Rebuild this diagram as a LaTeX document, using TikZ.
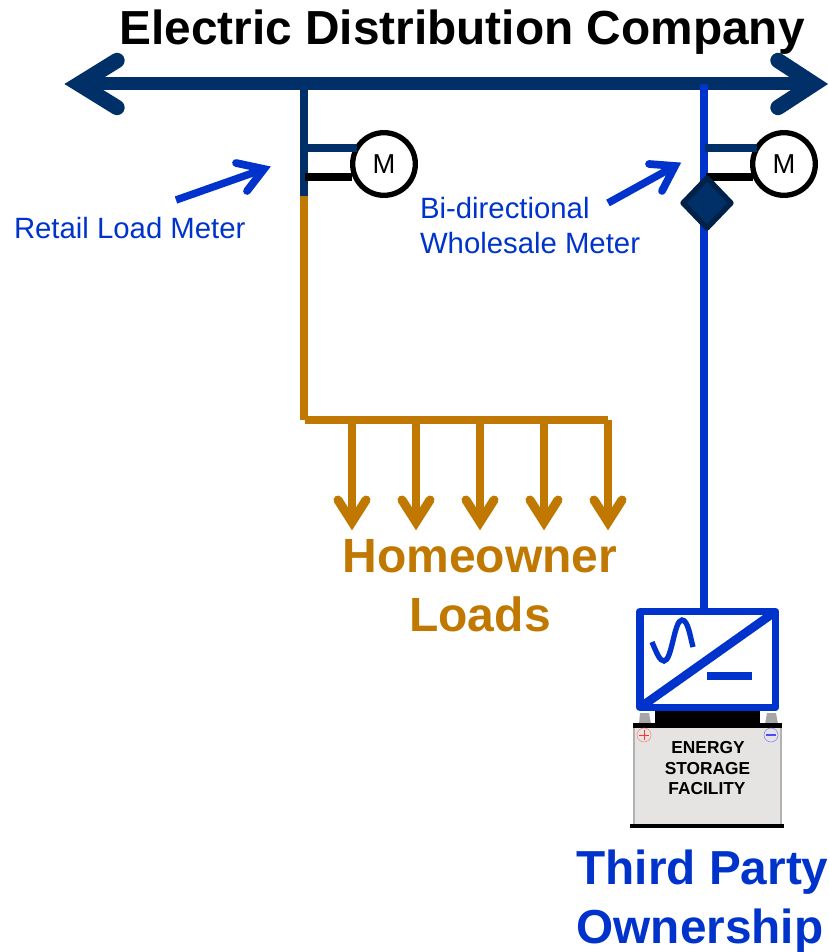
\documentclass[tikz,border=0pt]{standalone}
\usepackage{fontspec}
\setmainfont{Liberation Sans}
\definecolor{navyc}{HTML}{003067}
\definecolor{bluec}{HTML}{0033CC}
\definecolor{orangec}{HTML}{C07800}
\definecolor{battc}{HTML}{E6E4E3}
\newcommand{\fs}[1]{\fontsize{#1}{#1}\selectfont}
\tikzset{
  txt/.style={inner sep=0pt,outer sep=0pt,anchor=center},
  navyw/.style={draw=navyc,line width=6pt},
  busw/.style={draw=navyc,line width=9.75pt},
  bushead/.style={draw=navyc,line width=11.5pt,line cap=round,line join=miter,fill=none},
  bluew/.style={draw=bluec,line width=5.8pt},
  thinblue/.style={draw=bluec,line width=5.6pt},
  bluehead/.style={draw=bluec,line width=5.8pt,line cap=round,line join=miter,fill=none},
  blackw/.style={draw=black,line width=6pt},
  orangew/.style={draw=orangec,line width=5.8pt},
  orangehead/.style={draw=orangec,line width=6.75pt,line cap=round,line join=miter,fill=none},
  meter/.style={circle,draw=black,line width=4pt,fill=white,minimum size=47pt,inner sep=0pt,font=\fs{20.5}},
}
\begin{document}
\begin{tikzpicture}[x=0.75pt,y=-0.75pt]
\useasboundingbox (0,0) rectangle (828,952);
% bus
\coordinate (busL) at (79,84);
\coordinate (busR) at (814,84);
\coordinate (jL) at (303.7,84);
\coordinate (jR) at (704,84);
\draw[busw] (busL) -- (busR);
\draw[bushead] (117,60.5) -- (busL) -- (117,107.5);
\draw[bushead] (778,60.5) -- (busR) -- (778,107.5);
\node[txt,font=\fs{35.85}\bfseries] (title) at (462,32.5) {Electric Distribution Company};
% left feeder
\coordinate (sw) at (303.7,196);
\coordinate (corner) at (303.7,420);
\coordinate (rowL) at (305,420);
\draw[orangew] (sw) -- (corner);
\draw[navyw] (jL) -- (sw);
% right feeder
\coordinate (invTop) at (704,610);
\draw[bluew] (jR) -- (invTop);
% meters
\node[meter] (mL) at (384,164) {M};
\node[meter] (mR) at (784,164) {M};
\draw[navyw] (307,148) -- (357,148);
\draw[blackw] (305,177) -- (352,177);
\draw[navyw] (705,148) -- (757,148);
\draw[blackw] (706,177) -- (753,177);
% diamond
\draw[fill=navyc,draw=black!30!navyc,line width=4pt,line join=round] (707,178) -- (731,203) -- (707,228) -- (683,203) -- cycle;
% blue pointers
\coordinate (p1s) at (176,200); \coordinate (p1t) at (264,169);
\draw[thinblue] (p1s) -- (p1t);
\draw[bluehead] (236,163) -- (p1t) -- (247,191);
\coordinate (p2s) at (608,203); \coordinate (p2t) at (675,166);
\draw[thinblue] (p2s) -- (p2t);
\draw[bluehead] (649,164) -- (p2t) -- (662,191);
\node[txt,anchor=west,text=bluec,font=\fs{22}] (lab1) at (14,228) {Retail Load Meter};
\node[txt,anchor=west,text=bluec,font=\fs{22}] (lab2) at (420,208) {Bi-directional};
\node[txt,anchor=west,text=bluec,font=\fs{22}] (lab3) at (420,243) {Wholesale Meter};
% loads
\coordinate (rowR) at (608,420);
\draw[orangew] (rowL) -- (rowR);
\foreach \x/\n in {352/a,416/b,480/c,544/d,608/e}{
  \coordinate (top\n) at (\x,420);
  \coordinate (tip\n) at (\x,522);
  \draw[orangew] (top\n) -- (tip\n);
  \draw[orangehead] (\x-14,500) -- (tip\n) -- (\x+14,500);
}
\node[txt,text=orangec,font=\fs{36}\bfseries] (h1) at (480,556) {Homeowner};
\node[txt,text=orangec,font=\fs{36}\bfseries] (h2) at (480,614) {Loads};
\node[txt,text=bluec,font=\fs{35.8}\bfseries] (t1) at (702.5,872) {Third Party};
\node[txt,text=bluec,font=\fs{35.8}\bfseries] (t2) at (700,931) {Ownership};
% battery
\fill[battc] (634,726) rectangle (781,825);
\draw[gray!60,line width=1.5pt] (634,726) -- (634,825) (781,726) -- (781,825);
\fill[gray!70] (639,724) -- (640,713) -- (649,713) -- (651,724) -- cycle;
\fill[gray!70] (765,724) -- (767,713) -- (776,713) -- (778,724) -- cycle;
\fill[black] (655,709) rectangle (760,724);
\fill[black] (633,723) rectangle (782,728);
\fill[black] (630,824) rectangle (784,827.5);
\node[circle,draw=red!50,line width=.4pt,minimum size=10.5pt,inner sep=0pt] (plus) at (644,735) {};
\draw[red!80,line width=.7pt] (639,735) -- (649,735) (644,730) -- (644,740);
\node[circle,draw=blue!50,line width=.4pt,minimum size=10.5pt,inner sep=0pt] (minus) at (771,735) {};
\draw[blue!70,line width=1.5pt] (766,735) -- (776,735);
\node[txt,font=\fs{13}\bfseries] at (708,748) {ENERGY};
\node[txt,font=\fs{13}\bfseries] at (707.5,768.5) {STORAGE};
\node[txt,font=\fs{13}\bfseries] at (707,789) {FACILITY};
% inverter
\coordinate (invSW) at (640,707.5);
\coordinate (invNE) at (775.5,611.5);
\draw[draw=bluec,fill=white,line width=5.6pt,line join=round] (invSW) rectangle (invNE);
\begin{scope}
\clip (invSW) rectangle (invNE);
\draw[bluec,line width=6.5pt] (invSW) -- (invNE);
\end{scope}
\draw[bluec,line width=4pt] (652,642) .. controls (657,654) and (660,661) .. (664,661) .. controls (672,661) and (674,620) .. (682,620) .. controls (688,620) and (690,636) .. (693,647);
\fill[bluec] (707,672) rectangle (752,680);
\end{tikzpicture}
\end{document}
